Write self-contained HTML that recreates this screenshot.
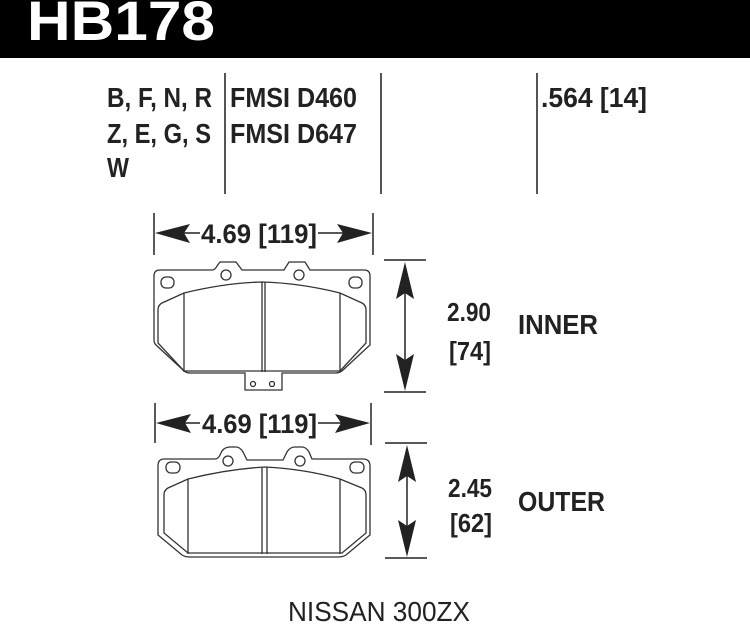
<!DOCTYPE html>
<html><head><meta charset="utf-8"><style>
html,body{margin:0;padding:0;background:#fff;}
svg{display:block}
text{font-family:"Liberation Sans",sans-serif;font-weight:bold;fill:#222}
</style></head><body>
<svg width="750" height="642" viewBox="0 0 750 642" xmlns="http://www.w3.org/2000/svg">
<rect x="0" y="0" width="750" height="58" fill="#000"/>
<text x="27" y="40" font-size="56" textLength="188" lengthAdjust="spacingAndGlyphs" style="fill:#fff">HB178</text>

<text x="107" y="107" font-size="28" textLength="105" lengthAdjust="spacingAndGlyphs">B, F, N, R</text>
<text x="107" y="143" font-size="28" textLength="104" lengthAdjust="spacingAndGlyphs">Z, E, G, S</text>
<text x="107" y="177" font-size="28" textLength="22" lengthAdjust="spacingAndGlyphs">W</text>
<text x="230" y="107" font-size="28" textLength="127" lengthAdjust="spacingAndGlyphs">FMSI D460</text>
<text x="230" y="143" font-size="28" textLength="127" lengthAdjust="spacingAndGlyphs">FMSI D647</text>
<text x="541" y="107" font-size="28" textLength="106" lengthAdjust="spacingAndGlyphs">.564 [14]</text>
<g stroke="#555" stroke-width="2">
<line x1="225" y1="73" x2="225" y2="194"/>
<line x1="381" y1="73" x2="381" y2="194"/>
<line x1="537" y1="73" x2="537" y2="194"/>
</g>

<!-- INNER -->
<g stroke="#222" stroke-width="1.5" fill="none">
<line x1="154" y1="213" x2="154" y2="255"/>
<line x1="373" y1="213" x2="373" y2="255"/>
<line x1="160" y1="233" x2="200" y2="233"/>
<line x1="318" y1="233" x2="367" y2="233"/>
</g>
<polygon points="155,233 190,224 184,233 190,243" fill="#222"/>
<polygon points="372,233 337,224 343,233 337,243" fill="#222"/>
<text x="201" y="243" font-size="27" textLength="116" lengthAdjust="spacingAndGlyphs">4.69 [119]</text>

<g stroke="#333" stroke-width="1.3" fill="none">
<path d="M160,270 H212 Q215,270 217,266 L220,262 H236 L242,270 H284 L289,262 H305 L310,270 H364 Q370,270 370,276 V345 L343,370 Q340,373 335,373 H282 V390 H245 V373 H190 Q186,373 183,370 L156,345 Q154,343 154,340 V276 Q154,270 160,270 Z"/>
<path d="M184,293 Q225,283 262,282 Q300,283 340,293 L362,303 Q366,305 366,310 V343 L340,371 H184 L158,343 V310 Q158,305 162,303 Z"/>
<line x1="184" y1="293" x2="184" y2="372"/>
<line x1="340" y1="293" x2="340" y2="372"/>
<line x1="262" y1="282" x2="262" y2="372"/>
<line x1="265" y1="282" x2="265" y2="372"/>
<rect x="161" y="277" width="13" height="11" rx="5"/>
<rect x="349" y="277" width="13" height="11" rx="5"/>
<circle cx="226" cy="275" r="5"/>
<circle cx="299" cy="275" r="5"/>
<circle cx="253" cy="384" r="2.5"/>
<circle cx="272" cy="384" r="2.5"/>
</g>
<g stroke="#222" stroke-width="1.5">
<line x1="384" y1="260" x2="426" y2="260"/>
<line x1="384" y1="392" x2="426" y2="392"/>
<line x1="405" y1="270" x2="405" y2="382"/>
</g>
<polygon points="405,262 396,299 405,293 414,299" fill="#222"/>
<polygon points="405,391 396,354 405,360 414,354" fill="#222"/>
<text x="447" y="321" font-size="26" textLength="44" lengthAdjust="spacingAndGlyphs">2.90</text>
<text x="449" y="360" font-size="26" textLength="42" lengthAdjust="spacingAndGlyphs">[74]</text>
<text x="518" y="334" font-size="28" textLength="80" lengthAdjust="spacingAndGlyphs">INNER</text>

<!-- OUTER -->
<g stroke="#222" stroke-width="1.5" fill="none">
<line x1="155" y1="403" x2="155" y2="443"/>
<line x1="371" y1="403" x2="371" y2="445"/>
<line x1="160" y1="423" x2="200" y2="423"/>
<line x1="318" y1="423" x2="366" y2="423"/>
</g>
<polygon points="156,423 191,414 185,423 191,433" fill="#222"/>
<polygon points="370,423 335,414 341,423 335,433" fill="#222"/>
<text x="202" y="433" font-size="27" textLength="115" lengthAdjust="spacingAndGlyphs">4.69 [119]</text>

<g stroke="#333" stroke-width="1.3" fill="none">
<path d="M164,459 H215 Q218,459 220,455 L222,451 Q225,447 230,447 H236 Q240,447 243,452 L247,460 H283 L287,452 Q290,447 295,447 H302 Q306,447 309,452 L312,459 H363 Q370,459 370,466 V535 L346,555 Q343,557 338,557 H190 Q185,557 182,555 L158,535 V466 Q158,459 164,459 Z"/>
<path d="M188,479 Q228,469 265,467 Q305,469 340,479 L362,488 Q366,490 366,495 V533 L342,553 H188 L164,533 V495 Q164,490 168,488 Z"/>
<line x1="188" y1="479" x2="188" y2="554"/>
<line x1="340" y1="479" x2="340" y2="554"/>
<line x1="262" y1="467" x2="262" y2="554"/>
<line x1="267" y1="467" x2="267" y2="554"/>
<rect x="166" y="462" width="14" height="11" rx="5"/>
<rect x="350" y="462" width="14" height="11" rx="5"/>
<circle cx="228" cy="461" r="5"/>
<circle cx="300" cy="461" r="5"/>
</g>
<g stroke="#222" stroke-width="1.5">
<line x1="385" y1="443" x2="427" y2="443"/>
<line x1="385" y1="558" x2="427" y2="558"/>
<line x1="407" y1="452" x2="407" y2="550"/>
</g>
<polygon points="407,445 398,482 407,476 416,482" fill="#222"/>
<polygon points="407,557 398,520 407,526 416,520" fill="#222"/>
<text x="448" y="497" font-size="26" textLength="44" lengthAdjust="spacingAndGlyphs">2.45</text>
<text x="450" y="532" font-size="26" textLength="42" lengthAdjust="spacingAndGlyphs">[62]</text>
<text x="518" y="511" font-size="28" textLength="87" lengthAdjust="spacingAndGlyphs">OUTER</text>

<text x="288" y="621" font-size="28" textLength="182" lengthAdjust="spacingAndGlyphs" style="font-weight:normal">NISSAN 300ZX</text>
</svg>
</body></html>
